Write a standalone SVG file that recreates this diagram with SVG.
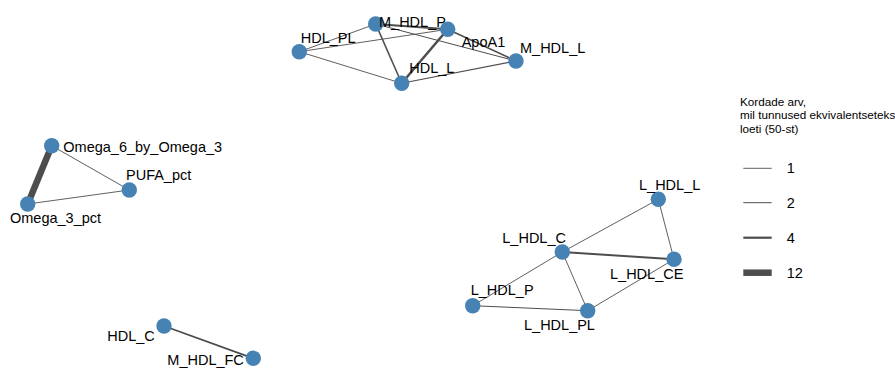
<svg xmlns="http://www.w3.org/2000/svg" width="895" height="369" viewBox="0 0 895 369">
<style>
.e{stroke:#4d4d4d;fill:none;stroke-linecap:butt}
.n{fill:#4682B4}
.l{font-family:"Liberation Sans",Arial,sans-serif;font-size:14.5px;fill:#000}
.lg{font-family:"Liberation Sans",Arial,sans-serif;font-size:11.7px;fill:#000}
</style>
<rect width="895" height="369" fill="#fff"/>
<g id="edges">
<line class="e" x1="299.3" y1="51.7" x2="375.7" y2="24" stroke-width="0.9"/>
<line class="e" x1="299.3" y1="51.7" x2="447.7" y2="29.3" stroke-width="0.9"/>
<line class="e" x1="299.3" y1="51.7" x2="401.7" y2="83.3" stroke-width="0.9"/>
<line class="e" x1="375.7" y1="24" x2="516" y2="61" stroke-width="1"/>
<line class="e" x1="375.7" y1="24" x2="447.7" y2="29.3" stroke-width="2"/>
<line class="e" x1="375.7" y1="24" x2="401.7" y2="83.3" stroke-width="1.6"/>
<line class="e" x1="447.7" y1="29.3" x2="516" y2="61" stroke-width="1.6"/>
<line class="e" x1="447.7" y1="29.3" x2="401.7" y2="83.3" stroke-width="2.5"/>
<line class="e" x1="401.7" y1="83.3" x2="516" y2="61" stroke-width="1.1"/>
<line class="e" x1="51.7" y1="145.7" x2="27.7" y2="204" stroke-width="6.5"/>
<line class="e" x1="51.7" y1="145.7" x2="129.3" y2="190" stroke-width="0.9"/>
<line class="e" x1="27.7" y1="204" x2="129.3" y2="190" stroke-width="0.9"/>
<line class="e" x1="562.3" y1="252" x2="658.3" y2="199.3" stroke-width="0.9"/>
<line class="e" x1="658.3" y1="199.3" x2="674" y2="259.3" stroke-width="0.9"/>
<line class="e" x1="562.3" y1="252" x2="674" y2="259.3" stroke-width="2"/>
<line class="e" x1="562.3" y1="252" x2="472.7" y2="305.7" stroke-width="0.9"/>
<line class="e" x1="562.3" y1="252" x2="587.7" y2="310.7" stroke-width="0.9"/>
<line class="e" x1="472.7" y1="305.7" x2="587.7" y2="310.7" stroke-width="1"/>
<line class="e" x1="587.7" y1="310.7" x2="674" y2="259.3" stroke-width="0.9"/>
<line class="e" x1="164" y1="326" x2="253.3" y2="358.3" stroke-width="1.8"/>
</g>
<g id="node-HDL_PL"><circle class="n" cx="299.3" cy="51.7" r="7.7"/><text class="l" x="300.7" y="43.3">HDL_PL</text></g>
<g id="node-M_HDL_P"><circle class="n" cx="375.7" cy="24" r="7.7"/><text class="l" x="379" y="26.7">M_HDL_P</text></g>
<g id="node-ApoA1"><circle class="n" cx="447.7" cy="29.3" r="7.7"/><text class="l" x="461.7" y="46.7">ApoA1</text></g>
<g id="node-M_HDL_L"><circle class="n" cx="516" cy="61" r="7.7"/><text class="l" x="520" y="52.7">M_HDL_L</text></g>
<g id="node-HDL_L"><circle class="n" cx="401.7" cy="83.3" r="7.7"/><text class="l" x="409.3" y="73.3">HDL_L</text></g>
<g id="node-Omega_6_by_Omega_3"><circle class="n" cx="51.7" cy="145.7" r="7.7"/><text class="l" x="63.3" y="152.3">Omega_6_by_Omega_3</text></g>
<g id="node-PUFA_pct"><circle class="n" cx="129.3" cy="190" r="7.7"/><text class="l" x="126" y="180">PUFA_pct</text></g>
<g id="node-Omega_3_pct"><circle class="n" cx="27.7" cy="204" r="7.7"/><text class="l" x="10" y="222.7">Omega_3_pct</text></g>
<g id="node-L_HDL_L"><circle class="n" cx="658.3" cy="199.3" r="7.7"/><text class="l" x="639" y="190">L_HDL_L</text></g>
<g id="node-L_HDL_C"><circle class="n" cx="562.3" cy="252" r="7.7"/><text class="l" x="502.3" y="243.3">L_HDL_C</text></g>
<g id="node-L_HDL_CE"><circle class="n" cx="674" cy="259.3" r="7.7"/><text class="l" x="610" y="279">L_HDL_CE</text></g>
<g id="node-L_HDL_P"><circle class="n" cx="472.7" cy="305.7" r="7.7"/><text class="l" x="470.7" y="295">L_HDL_P</text></g>
<g id="node-L_HDL_PL"><circle class="n" cx="587.7" cy="310.7" r="7.7"/><text class="l" x="524" y="330">L_HDL_PL</text></g>
<g id="node-HDL_C"><circle class="n" cx="164" cy="326" r="7.7"/><text class="l" x="107.3" y="340.7">HDL_C</text></g>
<g id="node-M_HDL_FC"><circle class="n" cx="253.3" cy="358.3" r="7.7"/><text class="l" x="167.3" y="365">M_HDL_FC</text></g>
<g id="legend">
<text class="lg" x="740" y="106">Kordade arv,</text>
<text class="lg" x="740" y="119.3">mil tunnused ekvivalentseteks</text>
<text class="lg" x="740" y="132.6">loeti (50-st)</text>
<line class="e" x1="743.3" y1="168.3" x2="771.7" y2="168.3" stroke-width="0.9"/>
<text class="l" x="786.7" y="173.3">1</text>
<line class="e" x1="743.3" y1="202.7" x2="771.7" y2="202.7" stroke-width="1"/>
<text class="l" x="786.7" y="207.7">2</text>
<line class="e" x1="743.3" y1="237.7" x2="771.7" y2="237.7" stroke-width="2.2"/>
<text class="l" x="786.7" y="242.7">4</text>
<line class="e" x1="743.3" y1="272.7" x2="771.7" y2="272.7" stroke-width="6.5"/>
<text class="l" x="786.7" y="277.7">12</text>
</g>
</svg>
